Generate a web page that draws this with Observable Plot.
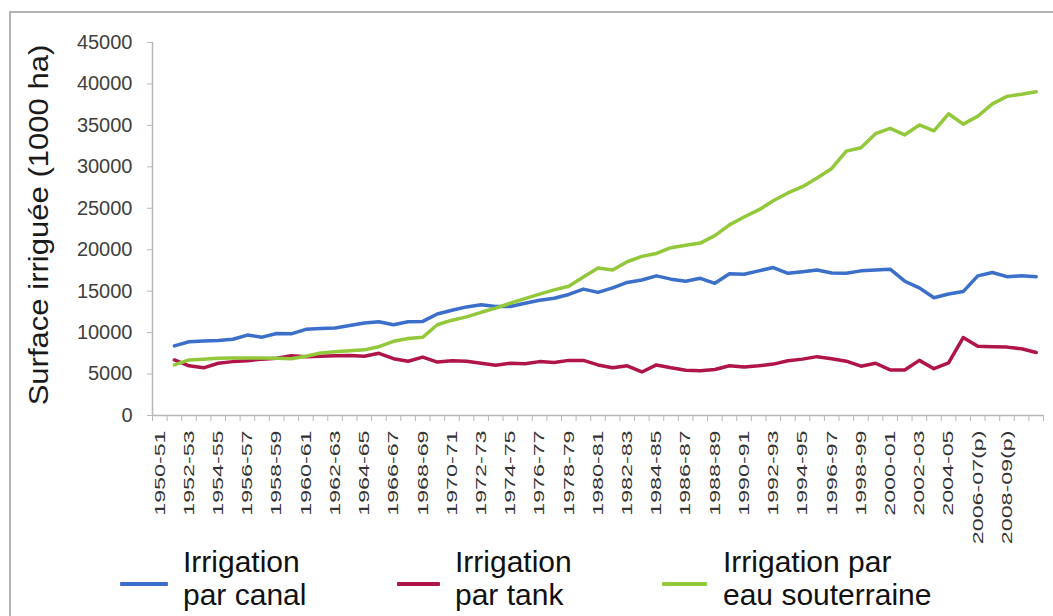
<!DOCTYPE html>
<html><head><meta charset="utf-8">
<script src="https://cdn.jsdelivr.net/npm/d3@7"></script>
<script src="https://cdn.jsdelivr.net/npm/@observablehq/plot@0.6"></script>
<style>
body{margin:0;background:#fff;font-family:"Liberation Sans",Arial,sans-serif;}
#wrap{position:relative;width:1053px;height:616px;overflow:hidden;background:#fff;}
#frame{position:absolute;left:9px;top:11px;width:1100px;height:700px;border:2px solid #b4b4b4;box-sizing:border-box;}
#chart{position:absolute;left:0;top:0;}
#ytitle{position:absolute;left:39px;top:225px;transform:translate(-50%,-50%) rotate(-90deg) scaleX(1.15);font-size:27px;white-space:nowrap;color:#1a1a1a;}
.leg{position:absolute;font-size:30px;line-height:33px;color:#111;white-space:nowrap;}
.sw{position:absolute;height:4px;border-radius:1px;}
</style></head>
<body>
<div id="wrap">
  <div id="frame"></div>
  <div id="chart"></div>
  <div id="ytitle">Surface irriguée (1000 ha)</div>
  <div id="legend"></div>
</div>
<script>
const years = ["1950-51","1951-52","1952-53","1953-54","1954-55","1955-56","1956-57","1957-58","1958-59","1959-60",
  "1960-61","1961-62","1962-63","1963-64","1964-65","1965-66","1966-67","1967-68","1968-69","1969-70",
  "1970-71","1971-72","1972-73","1973-74","1974-75","1975-76","1976-77","1977-78","1978-79","1979-80",
  "1980-81","1981-82","1982-83","1983-84","1984-85","1985-86","1986-87","1987-88","1988-89","1989-90",
  "1990-91","1991-92","1992-93","1993-94","1994-95","1995-96","1996-97","1997-98","1998-99","1999-00",
  "2000-01","2001-02","2002-03","2003-04","2004-05","2005-06","2006-07(p)","2007-08(p)","2008-09(p)","2009-10(p)",
  "2010-11(p)"];

const tickLabels = ["1950-51","1952-53","1954-55","1956-57","1958-59","1960-61","1962-63","1964-65","1966-67","1968-69",
  "1970-71","1972-73","1974-75","1976-77","1978-79","1980-81","1982-83","1984-85","1986-87","1988-89",
  "1990-91","1992-93","1994-95","1996-97","1998-99","2000-01","2002-03","2004-05","2006-07(p)","2008-09(p)"];

const yTicks = [0,5000,10000,15000,20000,25000,30000,35000,40000,45000];

const canal = [null,
  8400,8900,9000,9050,9200,9700,9450,9900,9850,10400,
  10500,10550,10850,11150,11300,10950,11300,11350,12250,12700,
  13100,13350,13150,13150,13550,13900,14150,14600,15250,14850,
  15400,16050,16350,16850,16450,16200,16550,15950,17100,17050,
  17450,17850,17150,17350,17550,17200,17150,17450,17550,17650,
  16200,15400,14200,14650,14950,16850,17250,16750,16850,16750];

const tank = [null,
  6700,6000,5750,6300,6500,6600,6800,6900,7200,7100,
  7150,7200,7250,7150,7500,6850,6550,7050,6450,6600,
  6550,6300,6050,6300,6250,6500,6400,6650,6650,6100,
  5750,6000,5250,6100,5750,5450,5400,5550,6000,5850,
  6000,6200,6600,6800,7100,6850,6550,5950,6300,5500,
  5500,6650,5650,6350,9400,8350,8300,8250,8050,7600];

const ground = [null,
  6100,6700,6800,6900,6950,6950,6950,6900,6850,7150,
  7550,7680,7800,7920,8300,8950,9300,9440,10950,11500,
  11900,12450,12950,13550,14100,14650,15150,15600,16700,17800,
  17550,18550,19200,19550,20250,20550,20800,21700,23000,23950,
  24800,25900,26850,27600,28650,29800,31900,32300,34000,34650,
  33850,35050,34350,36400,35150,36100,37600,38500,38750,39050];

const seriesNames = ["Irrigation par canal","Irrigation par tank","Irrigation par eau souterraine"];
const seriesLines = [["Irrigation","par canal"],["Irrigation","par tank"],["Irrigation par","eau souterraine"]];
const seriesColors = ["#3b6fc9","#b0154a","#92c83a"];
const seriesValues = [canal, tank, ground];

const rows = [];
seriesValues.forEach((vals, s) => {
  vals.forEach((v, idx) => { if (v != null) rows.push({series: seriesNames[s], idx, value: v}); });
});

const chart = Plot.plot({
  width: 1053, height: 560,
  marginLeft: 152, marginRight: 10, marginTop: 42, marginBottom: 145,
  x: {domain: [0, years.length], axis: null},
  y: {domain: [0, 45000], axis: null},
  color: {domain: seriesNames, range: seriesColors},
  style: {fontFamily: '"Liberation Sans", Arial, sans-serif', background: "transparent", overflow: "visible", color: "#404040"},
  marks: [
    Plot.ruleX([0], {stroke: "#b8b8b8", strokeWidth: 1.5}),
    Plot.ruleY([0], {stroke: "#b8b8b8", strokeWidth: 1.5}),
    Plot.axisY({ticks: yTicks, tickSize: 5, tickPadding: 15, tickFormat: d => String(d), fontSize: 20, stroke: "#b8b8b8", label: null}),
    Plot.axisX(d3.range(years.length + 1), {tickSize: 6, tickFormat: () => "", stroke: "#b8b8b8", label: null}),
    Plot.text(tickLabels, {x: d => years.indexOf(d) + 0.5, y: 0, text: d => d, rotate: -90, textAnchor: "end", dy: 15, fontSize: 15, fill: "#333"}),
    Plot.line(rows, {x: d => d.idx + 0.5, y: "value", z: "series", stroke: "series", strokeWidth: 3.5, strokeLinejoin: "round", strokeLinecap: "round"})
  ]
});
chart.querySelectorAll('g[aria-label="text"] text').forEach(t => {
  const tr = t.getAttribute("transform") || "";
  t.setAttribute("transform", tr + " scale(1.55,1)");
});
document.getElementById("chart").appendChild(chart);

const legendPos = [{sw: 120, sww: 48, tx: 183}, {sw: 397, sww: 43, tx: 455}, {sw: 662, sww: 45, tx: 723}];
const legend = document.getElementById("legend");
seriesNames.forEach((n, i) => {
  const sw = document.createElement("div");
  sw.className = "sw";
  sw.style.left = legendPos[i].sw + "px";
  sw.style.width = legendPos[i].sww + "px";
  sw.style.top = "582px";
  sw.style.background = seriesColors[i];
  legend.appendChild(sw);
  const tx = document.createElement("div");
  tx.className = "leg";
  tx.style.left = legendPos[i].tx + "px";
  tx.style.top = "545px";
  tx.innerHTML = seriesLines[i][0] + "<br>" + seriesLines[i][1];
  legend.appendChild(tx);
});
</script>
</body></html>
